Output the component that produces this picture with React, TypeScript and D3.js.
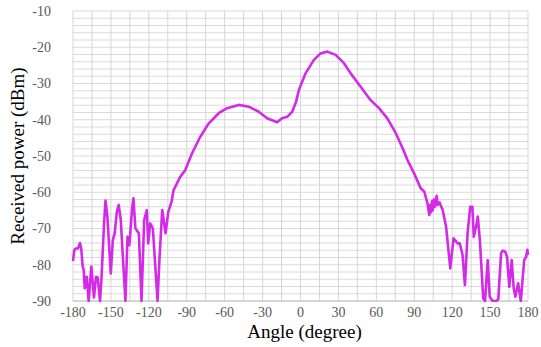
import React from "react";
import * as d3 from "d3";

const angles: number[] = [
  -180, -179, -178, -176, -174.5, -173.5, -172.3, -171.5, -170.7, -169.1, -167.6, -165.5, -163.4, -161.8, -160.5,
  -158.6, -157.5, -155.4, -154.3, -152.8, -150.1, -148.5, -147, -145.3, -143.8, -142.2, -140.1, -138.5, -136.9,
  -135.4, -133.2, -132.2, -130.6, -127.9, -125.8, -123.7, -121.6, -120.5, -118.9, -116.8, -114.7, -113.1, -111.5,
  -109.4, -106.8, -104.6, -102, -100.4, -95.1, -91.2, -85.9, -79.3, -72.6, -64.7, -58.1, -48.9, -40.9, -33, -26.4,
  -18.5, -14.6, -10.5, -6.6, -3.6, -1.3, 4, 10.6, 15.9, 21.2, 27.8, 34.4, 39.7, 47.6, 55.5, 62.1, 68.7, 75.4, 82,
  84.6, 89.9, 95.1, 97.9, 100.5, 101.9, 102.5, 103.2, 104, 104.7, 105.5, 106.3, 107.7, 108.5, 110, 112.5, 115.2,
  118.5, 121.1, 124.3, 126, 128.2, 130.1, 132.2, 134.3, 136, 137.1, 139.2, 140.3, 141.9, 144.6, 146, 148.1, 149.7,
  152, 154.9, 156.5, 158.7, 160, 162, 163.4, 165.2, 167.1, 168.7, 170, 172.2, 174.3, 177, 178.5, 179.5, 180,
];

const power: number[] = [
  -79, -76, -75.5, -75.5, -74, -75.5, -80.5, -81.5, -86.5, -83.3, -90, -80.5, -89, -83.3, -83.5,
  -90, -84, -68.5, -62.3, -66.7, -82.4, -73.2, -71.3, -65.4, -63.5, -67.7, -80.5, -90, -72.3,
  -74.6, -64.4, -61.7, -70, -71.3, -90, -67.7, -64.9, -74.1, -68.6, -70, -81.4, -90, -77.8,
  -64.9, -71.3, -65.4, -62.6, -59.4, -55.7, -53.9, -49.3, -44.7, -41, -38.2, -36.8, -35.9, -36.4, -37.8, -39.6,
  -40.7, -39.6, -39.2, -37.8, -35.2, -31.8, -27.2, -23.5, -21.7, -21.2, -22.1, -24.4, -27.2, -30.9, -34.6, -36.8, -39.6, -43.7, -48.8,
  -51.1, -54.8, -58.9, -59.8, -63.1, -66.3, -63.5, -65.5, -62.5, -65, -62, -64, -61, -63.5, -62.8, -64.9, -69.5,
  -81, -72.7, -74.1, -74.1, -77.3, -85.6, -71.3, -64, -64, -72.3, -69, -66.7, -73.2, -89.3, -90, -78.7, -88.8,
  -90, -90, -89.5, -76.8, -76.1, -76.4, -77.8, -86.1, -78.7, -86.5, -88.8, -85.1, -90, -78.7, -77.8, -75.9, -77.3,
];

const xTicks: number[] = [-180, -150, -120, -90, -60, -30, 0, 30, 60, 90, 120, 150, 180];
const yTicks: number[] = [-10, -20, -30, -40, -50, -60, -70, -80, -90];
const xTitle = "Angle (degree)";
const yTitle = "Received power (dBm)";

export default function App() {
  const W = 541, H = 347;
  const left = 73, right = 528, top = 11, bottom = 301;
  const x = d3.scaleLinear().domain([-180, 180]).range([left, right]);
  const y = d3.scaleLinear().domain([-90, -10]).range([bottom, top]);
  const data = angles.map((a, i) => [a, power[i]] as [number, number]);
  const line = d3.line<[number, number]>().x(d => x(d[0])).y(d => y(d[1])).curve(d3.curveLinear);
  const vGrid = d3.range(-180, 181, 15);
  const hGrid = d3.range(-90, -9, 2);
  const font = "'Liberation Serif', 'Times New Roman', serif";
  return (
    <svg width={W} height={H} style={{ position: "absolute", left: 0, top: 0, background: "#fff" }}>
      <rect x={0} y={0} width={W} height={H} fill="#fff" />
      <defs>
        <clipPath id="plotclip">
          <rect x={left - 2} y={top} width={right - left + 4} height={bottom - top + 1} />
        </clipPath>
      </defs>
      {hGrid.map(v => (
        <line key={"h" + v} x1={left} x2={right} y1={y(v)} y2={y(v)} stroke="#dadada" strokeWidth={1} />
      ))}
      {vGrid.map(v => (
        <line key={"v" + v} x1={x(v)} x2={x(v)} y1={top} y2={bottom} stroke="#d6d6d6" strokeWidth={1} />
      ))}
      <line x1={left} x2={right} y1={bottom} y2={bottom} stroke="#bfbfbf" strokeWidth={1} />
      <g clipPath="url(#plotclip)">
        <path d={line(data) || ""} fill="none" stroke="#d42ae8" strokeWidth={2.6} strokeLinejoin="round" />
      </g>
      {yTicks.map(v => (
        <text key={"yt" + v} x={left - 22} y={y(v)} dy="0.35em" textAnchor="end" fontFamily={font} fontSize={14} fill="#595959">
          {v}
        </text>
      ))}
      {xTicks.map(v => (
        <text key={"xt" + v} x={x(v)} y={bottom + 16} textAnchor="middle" fontFamily={font} fontSize={14} fill="#595959">
          {v}
        </text>
      ))}
      <text x={(left + right) / 2 + 4} y={338} textAnchor="middle" fontFamily={font} fontSize={19} fill="#000">
        {xTitle}
      </text>
      <text transform={`translate(24, ${(top + bottom) / 2}) rotate(-90)`} textAnchor="middle" fontFamily={font} fontSize={19} fill="#000">
        {yTitle}
      </text>
    </svg>
  );
}
